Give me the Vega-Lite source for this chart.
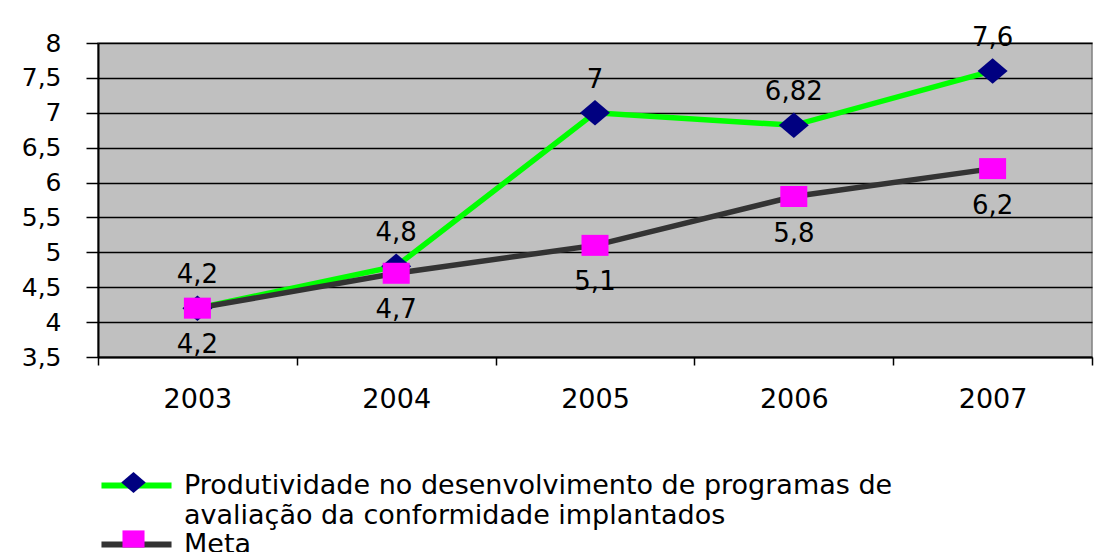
{
  "$schema": "https://vega.github.io/schema/vega-lite/v6.json",
  "width": 994,
  "height": 314,
  "autosize": "none",
  "padding": {"left": 98, "top": 43, "right": 11, "bottom": 195},
  "background": "white",
  "config": {
    "locale": {"number": {"decimal": ",", "thousands": ".", "grouping": [3], "currency": ["R$", ""]}},
    "font": "DejaVu Sans",
    "view": {"fill": "#C0C0C0", "stroke": "#808080", "strokeWidth": 1.5}
  },
  "data": {
    "values": [
      {"ano": "2003", "serie": "Produtividade no desenvolvimento de programas de avaliação da conformidade implantados", "valor": 4.2},
      {"ano": "2004", "serie": "Produtividade no desenvolvimento de programas de avaliação da conformidade implantados", "valor": 4.8},
      {"ano": "2005", "serie": "Produtividade no desenvolvimento de programas de avaliação da conformidade implantados", "valor": 7},
      {"ano": "2006", "serie": "Produtividade no desenvolvimento de programas de avaliação da conformidade implantados", "valor": 6.82},
      {"ano": "2007", "serie": "Produtividade no desenvolvimento de programas de avaliação da conformidade implantados", "valor": 7.6},
      {"ano": "2003", "serie": "Meta", "valor": 4.2},
      {"ano": "2004", "serie": "Meta", "valor": 4.7},
      {"ano": "2005", "serie": "Meta", "valor": 5.1},
      {"ano": "2006", "serie": "Meta", "valor": 5.8},
      {"ano": "2007", "serie": "Meta", "valor": 6.2}
    ]
  },
  "encoding": {
    "x": {
      "field": "ano",
      "type": "ordinal",
      "scale": {"paddingInner": 0, "paddingOuter": 0},
      "axis": {
        "title": null,
        "labelAngle": 0,
        "labelFontSize": 27,
        "labelColor": "black",
        "labelPadding": 21,
        "tickSize": 8,
        "tickWidth": 1.5,
        "tickColor": "black",
        "tickBand": "extent",
        "domainColor": "black",
        "domainWidth": 2,
        "grid": false
      }
    },
    "y": {
      "field": "valor",
      "type": "quantitative",
      "scale": {"domain": [3.5, 8], "nice": false, "zero": false},
      "axis": {
        "title": null,
        "values": [3.5, 4, 4.5, 5, 5.5, 6, 6.5, 7, 7.5, 8],
        "format": "~g",
        "labelFontSize": 25,
        "labelColor": "black",
        "labelPadding": 25,
        "tickSize": 12,
        "tickWidth": 1.5,
        "tickColor": "black",
        "domainColor": "black",
        "domainWidth": 2,
        "gridColor": "black",
        "gridWidth": 1.5,
        "gridOpacity": 1
      }
    }
  },
  "layer": [
    {
      "mark": {"type": "line", "strokeWidth": 5.5},
      "encoding": {
        "stroke": {
          "field": "serie",
          "type": "nominal",
          "scale": {
            "domain": ["Produtividade no desenvolvimento de programas de avaliação da conformidade implantados", "Meta"],
            "range": ["#00FF00", "#333333"]
          },
          "legend": {
            "orient": "none",
            "legendX": 23,
            "legendY": 427,
            "title": null,
            "padding": 0,
            "symbolType": "M-2.86,0H2.86",
            "symbolSize": 600,
            "symbolStrokeWidth": 6,
            "labelFontSize": 27,
            "labelColor": "black",
            "labelLimit": 0,
            "labelOffset": 32,
            "rowPadding": 0,
            "labelExpr": "split(replace(datum.label, 'de avaliação', 'de|avaliação'), '|')",
            "encode": {"labels": {"update": {"lineHeight": {"value": 30}}}}
          }
        }
      }
    },
    {
      "mark": {"type": "point", "filled": true, "opacity": 1, "size": 900, "strokeWidth": 0},
      "encoding": {
        "fill": {
          "field": "serie",
          "type": "nominal",
          "sort": "descending",
          "scale": {"range": ["#000080", "#FF00FF"]},
          "legend": {
            "orient": "none",
            "legendX": 23,
            "legendY": 427,
            "title": null,
            "padding": 0,
            "symbolSize": 600,
            "symbolStrokeWidth": 0,
            "symbolOpacity": 1,
            "labelFontSize": 1,
            "labelExpr": "''",
            "labelOffset": 0,
            "rowPadding": 33.5
          }
        },
        "shape": {
          "field": "serie",
          "type": "nominal",
          "sort": "descending",
          "scale": {"range": ["M-1,0L0,-0.85L1,0L0,0.85Z", "M-0.9,-0.7H0.9V0.7H-0.9Z"]}
        }
      }
    },
    {
      "transform": [{"filter": "datum.serie != 'Meta'"}],
      "mark": {"type": "text", "dy": -33, "fontSize": 26, "color": "black"},
      "encoding": {"text": {"field": "valor", "type": "quantitative", "format": "~g"}}
    },
    {
      "transform": [{"filter": "datum.serie == 'Meta'"}],
      "mark": {"type": "text", "dy": 37, "fontSize": 26, "color": "black"},
      "encoding": {"text": {"field": "valor", "type": "quantitative", "format": "~g"}}
    }
  ]
}
